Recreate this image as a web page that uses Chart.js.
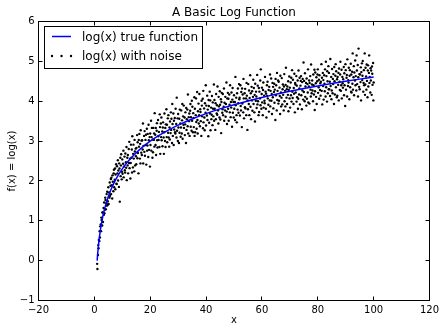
<!DOCTYPE html>
<html>
<head>
<meta charset="utf-8">
<script src="https://cdn.jsdelivr.net/npm/chart.js@4/dist/chart.umd.min.js"></script>
<style>
  html, body { margin: 0; padding: 0; background: #fff; }
  canvas { display: block; }
</style>
</head>
<body>
<canvas id="chart" width="445" height="331"></canvas>
<script>
// Axis limits and tick steps
const xTicks = [-20, 0, 20, 40, 60, 80, 100, 120];
const yTicks = [-1, 0, 1, 2, 3, 4, 5, 6];

// Smooth reference curve: log(x) sampled at these x values
const curveX = [1, 1.1, 1.25, 1.5, 1.75, 2, 2.5, 3, 3.5, 4, 5, 6, 7, 8, 9, 10, 12, 14, 16, 18, 20, 23, 26, 30, 35, 40, 45, 50, 55, 60, 65, 70, 75, 80, 85, 90, 95, 100];
const curveY = [0, 0.095, 0.223, 0.405, 0.560, 0.693, 0.916, 1.099, 1.253, 1.386, 1.609, 1.792, 1.946, 2.079, 2.197, 2.303, 2.485, 2.639, 2.773, 2.890, 2.996, 3.135, 3.258, 3.401, 3.555, 3.689, 3.807, 3.912, 4.007, 4.094, 4.174, 4.248, 4.317, 4.382, 4.443, 4.500, 4.554, 4.605];

// Noisy samples
const noiseX = [
  1.0,1.1,1.3,1.4,1.5,1.6,1.8,1.9, 2.0,2.1,2.3,2.4,2.5,2.6,2.8,2.9,
  3.0,3.1,3.3,3.4,3.5,3.6,3.8,3.9, 4.0,4.1,4.3,4.4,4.5,4.6,4.8,4.9,
  5.0,5.1,5.3,5.4,5.5,5.6,5.8,5.9, 6.0,6.1,6.3,6.4,6.5,6.6,6.8,6.9,
  7.0,7.1,7.3,7.4,7.5,7.6,7.8,7.9, 8.0,8.1,8.3,8.4,8.5,8.6,8.8,8.9,
  9.0,9.1,9.3,9.4,9.5,9.6,9.8,9.9, 10.0,10.1,10.3,10.4,10.5,10.6,10.8,10.9,
  11.0,11.1,11.3,11.4,11.5,11.6,11.8,11.9, 12.0,12.1,12.3,12.4,12.5,12.6,12.8,12.9,
  13.0,13.1,13.3,13.4,13.5,13.6,13.8,13.9, 14.0,14.1,14.3,14.4,14.5,14.6,14.8,14.9,
  15.0,15.1,15.3,15.4,15.5,15.6,15.8,15.9, 16.0,16.1,16.3,16.4,16.5,16.6,16.8,16.9,
  17.0,17.1,17.3,17.4,17.5,17.6,17.8,17.9, 18.0,18.1,18.3,18.4,18.5,18.6,18.8,18.9,
  19.0,19.1,19.3,19.4,19.5,19.6,19.8,19.9, 20.0,20.1,20.3,20.4,20.5,20.6,20.8,20.9,
  21.0,21.1,21.3,21.4,21.5,21.6,21.8,21.9, 22.0,22.1,22.3,22.4,22.5,22.6,22.8,22.9,
  23.0,23.1,23.3,23.4,23.5,23.6,23.8,23.9, 24.0,24.1,24.3,24.4,24.5,24.6,24.8,24.9,
  25.0,25.1,25.3,25.4,25.5,25.6,25.8,25.9, 26.0,26.1,26.3,26.4,26.5,26.6,26.8,26.9,
  27.0,27.1,27.3,27.4,27.5,27.6,27.8,27.9, 28.0,28.1,28.3,28.4,28.5,28.6,28.8,28.9,
  29.0,29.1,29.3,29.4,29.5,29.6,29.8,29.9, 30.0,30.1,30.3,30.4,30.5,30.6,30.8,30.9,
  31.0,31.1,31.3,31.4,31.5,31.6,31.8,31.9, 32.0,32.1,32.3,32.4,32.5,32.6,32.8,32.9,
  33.0,33.1,33.3,33.4,33.5,33.6,33.8,33.9, 34.0,34.1,34.3,34.4,34.5,34.6,34.8,34.9,
  35.0,35.1,35.3,35.4,35.5,35.6,35.8,35.9, 36.0,36.1,36.3,36.4,36.5,36.6,36.8,36.9,
  37.0,37.1,37.3,37.4,37.5,37.6,37.8,37.9, 38.0,38.1,38.3,38.4,38.5,38.6,38.8,38.9,
  39.0,39.1,39.3,39.4,39.5,39.6,39.8,39.9, 40.0,40.1,40.3,40.4,40.5,40.6,40.8,40.9,
  41.0,41.1,41.3,41.4,41.5,41.6,41.8,41.9, 42.0,42.1,42.3,42.4,42.5,42.6,42.8,42.9,
  43.0,43.1,43.3,43.4,43.5,43.6,43.8,43.9, 44.0,44.1,44.3,44.4,44.5,44.6,44.8,44.9,
  45.0,45.1,45.3,45.4,45.5,45.6,45.8,45.9, 46.0,46.1,46.3,46.4,46.5,46.6,46.8,46.9,
  47.0,47.1,47.3,47.4,47.5,47.6,47.8,47.9, 48.0,48.1,48.3,48.4,48.5,48.6,48.8,48.9,
  49.0,49.1,49.3,49.4,49.5,49.6,49.8,49.9, 50.0,50.1,50.3,50.4,50.5,50.6,50.8,50.9,
  51.0,51.1,51.3,51.4,51.5,51.6,51.8,51.9, 52.0,52.1,52.3,52.4,52.5,52.6,52.8,52.9,
  53.0,53.1,53.3,53.4,53.5,53.6,53.8,53.9, 54.0,54.1,54.3,54.4,54.5,54.6,54.8,54.9,
  55.0,55.1,55.3,55.4,55.5,55.6,55.8,55.9, 56.0,56.1,56.3,56.4,56.5,56.6,56.8,56.9,
  57.0,57.1,57.3,57.4,57.5,57.6,57.8,57.9, 58.0,58.1,58.3,58.4,58.5,58.6,58.8,58.9,
  59.0,59.1,59.3,59.4,59.5,59.6,59.8,59.9, 60.0,60.1,60.3,60.4,60.5,60.6,60.8,60.9,
  61.0,61.1,61.3,61.4,61.5,61.6,61.8,61.9, 62.0,62.1,62.3,62.4,62.5,62.6,62.8,62.9,
  63.0,63.1,63.3,63.4,63.5,63.6,63.8,63.9, 64.0,64.1,64.3,64.4,64.5,64.6,64.8,64.9,
  65.0,65.1,65.3,65.4,65.5,65.6,65.8,65.9, 66.0,66.1,66.3,66.4,66.5,66.6,66.8,66.9,
  67.0,67.1,67.3,67.4,67.5,67.6,67.8,67.9, 68.0,68.1,68.3,68.4,68.5,68.6,68.8,68.9,
  69.0,69.1,69.3,69.4,69.5,69.6,69.8,69.9, 70.0,70.1,70.3,70.4,70.5,70.6,70.8,70.9,
  71.0,71.1,71.3,71.4,71.5,71.6,71.8,71.9, 72.0,72.1,72.3,72.4,72.5,72.6,72.8,72.9,
  73.0,73.1,73.3,73.4,73.5,73.6,73.8,73.9, 74.0,74.1,74.3,74.4,74.5,74.6,74.8,74.9,
  75.0,75.1,75.3,75.4,75.5,75.6,75.8,75.9, 76.0,76.1,76.3,76.4,76.5,76.6,76.8,76.9,
  77.0,77.1,77.3,77.4,77.5,77.6,77.8,77.9, 78.0,78.1,78.3,78.4,78.5,78.6,78.8,78.9,
  79.0,79.1,79.3,79.4,79.5,79.6,79.8,79.9, 80.0,80.1,80.3,80.4,80.5,80.6,80.8,80.9,
  81.0,81.1,81.3,81.4,81.5,81.6,81.8,81.9, 82.0,82.1,82.3,82.4,82.5,82.6,82.8,82.9,
  83.0,83.1,83.3,83.4,83.5,83.6,83.8,83.9, 84.0,84.1,84.3,84.4,84.5,84.6,84.8,84.9,
  85.0,85.1,85.3,85.4,85.5,85.6,85.8,85.9, 86.0,86.1,86.3,86.4,86.5,86.6,86.8,86.9,
  87.0,87.1,87.3,87.4,87.5,87.6,87.8,87.9, 88.0,88.1,88.3,88.4,88.5,88.6,88.8,88.9,
  89.0,89.1,89.3,89.4,89.5,89.6,89.8,89.9, 90.0,90.1,90.3,90.4,90.5,90.6,90.8,90.9,
  91.0,91.1,91.3,91.4,91.5,91.6,91.8,91.9, 92.0,92.1,92.3,92.4,92.5,92.6,92.8,92.9,
  93.0,93.1,93.3,93.4,93.5,93.6,93.8,93.9, 94.0,94.1,94.3,94.4,94.5,94.6,94.8,94.9,
  95.0,95.1,95.3,95.4,95.5,95.6,95.8,95.9, 96.0,96.1,96.3,96.4,96.5,96.6,96.8,96.9,
  97.0,97.1,97.3,97.4,97.5,97.6,97.8,97.9, 98.0,98.1,98.3,98.4,98.5,98.6,98.8,98.9,
  99.0,99.1,99.3,99.4,99.5,99.6,99.8,99.9, 100.0
];
const noiseY = [
  -0.08,-0.21,0.14,0.39,0.31,0.52,0.49,0.74, 0.58,0.86,0.91,0.74,1.08,1.02,0.88,1.21,
  1.21,0.97,1.32,1.15,1.46,1.19,1.28,1.58, 1.52,1.29,1.44,1.67,1.38,1.73,1.49,1.41,
  1.84,1.42,1.71,1.58,1.96,1.63,1.88,2.05, 1.67,2.08,1.89,1.56,2.14,1.98,1.74,2.19,
  2.28,1.84,2.03,2.31,1.79,2.16,2.42,1.93, 1.92,2.37,2.19,2.52,2.01,2.26,1.85,2.44,
  2.31,1.48,2.58,2.12,2.39,2.67,2.04,2.23, 2.54,2.18,2.43,2.76,2.09,2.36,2.61,2.27,
  2.21,2.69,2.47,2.33,2.85,2.02,2.58,2.39, 2.65,2.19,2.80,2.45,2.98,2.32,2.56,2.06,
  2.45,2.91,2.58,2.79,2.21,3.12,2.34,2.68, 2.91,2.56,2.24,3.03,2.74,2.39,2.81,2.62,
  2.42,2.83,3.15,2.57,2.97,2.70,2.19,3.03, 2.86,3.18,2.56,2.93,2.44,3.27,2.71,3.01,
  2.65,3.02,2.79,3.44,2.44,2.88,3.13,2.73, 3.25,2.63,3.03,2.90,3.16,2.41,3.31,2.76,
  2.89,3.18,2.60,3.41,3.02,2.78,3.10,2.36, 3.19,2.90,3.51,2.76,3.10,3.33,2.58,3.04,
  2.72,3.33,3.03,3.19,2.86,3.70,3.16,2.90, 3.33,2.65,3.26,3.45,3.02,2.84,3.53,3.12,
  3.03,3.23,2.85,3.67,3.35,2.68,3.44,3.10, 3.59,3.02,3.24,2.87,3.34,3.47,3.09,2.68,
  3.22,3.69,3.00,3.33,2.85,3.42,3.80,3.10, 3.41,2.97,3.57,3.21,3.65,3.09,2.86,3.34,
  3.04,3.49,3.20,3.72,3.28,3.56,2.95,3.93, 3.43,3.13,3.69,2.90,3.51,3.29,3.58,3.22,
  3.19,3.81,3.43,3.09,4.09,3.26,3.57,3.00, 3.68,3.34,2.95,3.56,3.21,3.79,3.44,3.11,
  3.34,3.77,3.19,3.52,3.93,3.06,3.62,3.41, 3.89,3.33,3.59,3.15,3.42,3.72,2.95,3.83,
  3.28,3.55,3.79,3.37,4.17,3.19,3.60,3.50, 3.69,3.13,3.76,3.93,3.36,3.60,3.26,4.01,
  3.51,3.86,3.22,3.70,3.58,3.35,4.10,3.13, 3.81,3.22,3.65,4.07,3.48,3.31,4.23,3.53,
  3.19,3.75,3.94,3.44,3.65,4.18,3.37,3.80, 3.73,3.50,3.13,4.01,3.89,3.62,4.06,3.32,
  4.26,3.47,3.82,3.59,3.27,3.95,3.71,4.40, 3.39,3.89,3.64,4.14,3.53,3.79,3.12,4.03,
  3.88,3.46,4.24,3.69,4.02,3.27,3.84,3.55, 3.66,4.13,3.40,3.97,3.81,3.62,4.42,3.51,
  4.03,3.81,3.28,3.95,3.55,4.18,3.69,3.90, 3.66,4.37,3.77,3.44,4.11,3.87,3.59,4.25,
  3.91,3.54,4.05,3.20,3.98,4.21,3.71,3.80, 4.18,3.65,3.86,4.32,3.51,3.96,3.77,4.11,
  3.61,3.93,4.47,3.74,3.43,4.07,4.21,3.81, 4.06,3.51,4.17,3.91,3.72,4.40,3.60,3.98,
  3.84,4.22,3.36,4.04,4.33,3.71,3.98,3.59, 4.15,3.81,3.98,3.53,4.61,3.90,4.09,3.65,
  3.47,4.20,3.79,4.32,3.95,3.71,4.43,4.05, 4.09,3.64,4.40,3.88,3.77,4.23,3.35,4.32,
  3.94,4.17,3.72,4.56,4.07,3.57,4.20,3.85, 4.31,3.82,4.07,3.65,4.46,4.14,3.28,4.02,
  3.80,4.43,3.93,4.27,3.65,4.08,4.65,3.86, 4.20,3.55,4.36,4.02,4.25,3.76,4.11,4.54,
  3.93,4.33,3.72,4.16,3.49,4.44,4.01,4.24, 4.12,3.83,4.66,3.92,4.39,4.00,3.65,4.33,
  3.73,4.24,4.07,4.52,3.90,4.80,3.81,4.18, 4.34,3.97,3.65,4.28,4.47,3.84,4.14,4.01,
  3.95,4.61,4.24,3.81,4.19,3.59,4.40,4.13, 4.49,4.07,3.91,4.28,3.74,4.36,4.02,4.67,
  3.87,4.26,4.57,4.01,4.18,3.68,4.46,4.10, 4.36,3.82,4.23,4.44,3.96,4.29,3.53,4.56,
  4.15,4.40,3.77,4.71,4.03,4.26,4.52,3.94, 4.49,4.01,4.34,4.13,3.68,4.64,4.22,3.87,
  4.09,4.58,3.92,4.30,4.42,4.16,3.77,4.37, 4.68,4.00,4.26,3.87,4.41,4.84,4.09,4.30,
  3.93,4.37,4.16,4.50,3.75,4.28,4.62,4.07, 4.34,3.84,4.47,4.15,4.59,3.99,4.78,4.24,
  4.08,4.54,3.93,4.33,4.19,4.69,3.72,4.46, 4.42,4.22,4.63,3.99,4.39,4.10,4.52,3.81,
  4.06,4.77,4.17,4.32,4.59,3.92,4.39,4.51, 4.63,4.15,3.80,4.48,4.27,4.56,4.04,4.97,
  4.23,4.51,4.00,4.70,4.11,4.37,4.46,3.89, 4.57,4.06,4.43,4.22,4.80,3.97,4.37,4.52,
  3.94,4.46,4.63,4.29,4.12,4.92,4.20,4.42, 4.52,4.27,4.00,4.67,4.40,4.17,4.79,3.78,
  4.25,4.72,4.45,4.11,4.60,3.93,4.50,4.67, 4.80,4.21,4.35,4.54,4.06,4.65,4.28,4.45,
  4.14,4.49,4.93,4.26,4.59,3.92,4.71,4.38, 4.53,4.04,4.65,4.44,4.25,4.80,4.12,4.99,
  4.35,4.63,3.99,4.75,4.50,4.20,4.88,4.30, 4.71,4.30,4.49,4.13,5.06,4.38,4.61,4.05,
  4.27,4.81,4.20,4.56,4.43,4.68,3.93,4.86, 4.50,4.17,4.64,4.93,4.35,4.75,4.10,4.55,
  4.14,4.61,4.41,4.71,4.02,4.82,4.49,4.28, 4.67,4.99,4.26,4.40,4.79,4.07,4.61,4.45,
  4.34,4.55,4.86,4.15,4.70,4.40,3.88,4.93, 4.78,4.29,4.59,4.66,4.12,5.05,4.38,4.53,
  4.47,4.84,4.05,4.64,4.78,4.35,4.94,4.24, 4.67,4.22,4.74,4.44,5.20,4.29,4.60,4.88,
  4.15,4.72,4.52,5.02,4.40,4.63,4.27,5.15, 4.77,4.43,4.91,4.12,4.60,5.32,4.36,4.68,
  4.30,4.67,4.48,4.85,4.02,4.73,4.95,4.53, 4.64,5.01,4.24,4.46,4.78,4.40,5.20,4.16,
  4.42,4.84,4.62,4.29,4.92,4.51,4.10,4.77, 4.90,4.37,4.71,5.15,4.46,4.61,4.22,4.83,
  4.52,4.77,4.16,4.87,4.69,4.41,4.96,4.02, 4.47
];

const seriesLabels = ['log(x) true function', 'log(x) with noise'];
const FONT = "'DejaVu Sans', 'Bitstream Vera Sans', sans-serif";

const minus = v => (v < 0 ? '\u2212' + Math.abs(v) : String(v));

// Frame, inward tick marks on all four sides, and the boxed legend
const framePlugin = {
  id: 'frameAndLegend',
  afterDraw(chart) {
    const { ctx, chartArea: a, scales: { x, y } } = chart;
    ctx.save();
    ctx.strokeStyle = '#000';
    ctx.lineWidth = 1;
    ctx.strokeRect(a.left, a.top, a.right - a.left, a.bottom - a.top);

    const tl = 4;
    ctx.beginPath();
    x.ticks.forEach(t => {
      const px = Math.round(x.getPixelForValue(t.value) - 0.5) + 0.5;
      ctx.moveTo(px, a.bottom); ctx.lineTo(px, a.bottom - tl);
      ctx.moveTo(px, a.top); ctx.lineTo(px, a.top + tl);
    });
    y.ticks.forEach(t => {
      const py = Math.round(y.getPixelForValue(t.value) - 0.5) + 0.5;
      ctx.moveTo(a.left, py); ctx.lineTo(a.left + tl, py);
      ctx.moveTo(a.right, py); ctx.lineTo(a.right - tl, py);
    });
    ctx.stroke();

    // Legend box
    const bx = 44.5, by = 26.5, bw = 158, bh = 42;
    ctx.fillStyle = '#fff';
    ctx.fillRect(bx, by, bw, bh);
    ctx.strokeRect(bx, by, bw, bh);

    const ds0 = chart.data.datasets[0];
    const ds1 = chart.data.datasets[1];
    ctx.strokeStyle = ds0.borderColor;
    ctx.lineWidth = ds0.borderWidth;
    ctx.beginPath();
    ctx.moveTo(52, 36.5); ctx.lineTo(71, 36.5);
    ctx.stroke();

    ctx.fillStyle = ds1.pointBackgroundColor;
    [52, 61.5, 71].forEach(cx => {
      ctx.beginPath();
      ctx.arc(cx, 56, ds1.pointRadius, 0, Math.PI * 2);
      ctx.fill();
    });

    ctx.fillStyle = '#000';
    ctx.font = '12px ' + FONT;
    ctx.textAlign = 'left';
    ctx.textBaseline = 'alphabetic';
    ctx.fillText(ds0.label, 82, 40.5);
    ctx.fillText(ds1.label, 82, 59.5);
    ctx.restore();
  }
};

new Chart(document.getElementById('chart'), {
  type: 'scatter',
  data: {
    datasets: [
      {
        type: 'line',
        label: seriesLabels[0],
        data: curveX.map((v, i) => ({ x: v, y: curveY[i] })),
        borderColor: '#0000ff',
        borderWidth: 1.5,
        pointRadius: 0,
        fill: false,
        cubicInterpolationMode: 'monotone'
      },
      {
        label: seriesLabels[1],
        data: noiseX.map((v, i) => ({ x: v, y: noiseY[i] })),
        pointRadius: 1.2,
        pointBackgroundColor: '#000000',
        pointBorderWidth: 0,
        borderColor: '#000000'
      }
    ]
  },
  options: {
    responsive: false,
    animation: false,
    devicePixelRatio: 1,
    events: [],
    layout: { padding: { top: 0, right: 15.5, bottom: 0, left: 0 } },
    plugins: {
      legend: { display: false },
      tooltip: { enabled: false },
      title: {
        display: true,
        fullSize: false,
        text: 'A Basic Log Function',
        color: '#000',
        font: { family: FONT, size: 12, weight: 'normal' },
        padding: { top: 6, bottom: 1.1 }
      }
    },
    scales: {
      x: {
        type: 'linear',
        min: xTicks[0],
        max: xTicks[xTicks.length - 1],
        afterBuildTicks: s => { s.ticks = xTicks.map(v => ({ value: v })); },
        afterFit: s => { s.height = 30.5; },
        grid: { display: false, drawTicks: false },
        border: { display: false },
        ticks: {
          color: '#000',
          font: { family: FONT, size: 10 },
          padding: 4,
          maxRotation: 0,
          autoSkip: false,
          callback: v => minus(v)
        },
        title: {
          display: true,
          text: 'x',
          color: '#000',
          font: { family: FONT, size: 10 },
          padding: { top: 0, bottom: 5 }
        }
      },
      y: {
        type: 'linear',
        min: yTicks[0],
        max: yTicks[yTicks.length - 1],
        afterBuildTicks: s => { s.ticks = yTicks.map(v => ({ value: v })); },
        afterFit: s => { s.width = 38.5; },
        grid: { display: false, drawTicks: false },
        border: { display: false },
        ticks: {
          color: '#000',
          font: { family: FONT, size: 10 },
          padding: 4,
          autoSkip: false,
          callback: v => minus(v)
        },
        title: {
          display: true,
          text: 'f(x) = log(x)',
          color: '#000',
          font: { family: FONT, size: 10 },
          padding: { top: 6, bottom: 0 }
        }
      }
    }
  },
  plugins: [framePlugin]
});
</script>
</body>
</html>
